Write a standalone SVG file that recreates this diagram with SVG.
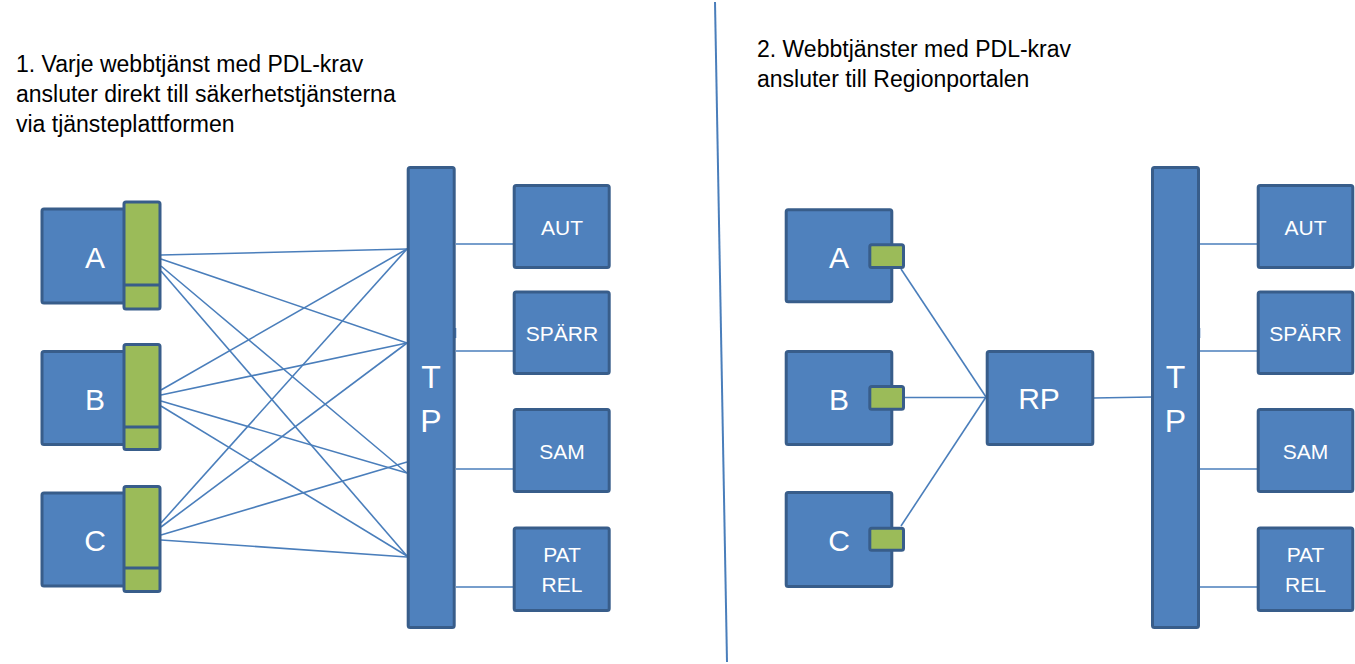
<svg xmlns="http://www.w3.org/2000/svg" width="1355" height="664" viewBox="0 0 1355 664">
<style>
.n{fill:#4F81BD;stroke:#385D8A;stroke-width:3;}
.g{fill:#9BBB59;stroke:#385D8A;stroke-width:3;}
.dv{stroke:#385D8A;stroke-width:3;}
.c{stroke:#4A7EBB;stroke-width:1.6;fill:none;}
.t{font-family:"Liberation Sans",Arial,sans-serif;font-size:23px;fill:#000;}
.lb{font-family:"Liberation Sans",Arial,sans-serif;font-size:30px;fill:#fff;text-anchor:middle;}
.tp{font-family:"Liberation Sans",Arial,sans-serif;font-size:32px;fill:#fff;text-anchor:middle;}
.s{font-family:"Liberation Sans",Arial,sans-serif;font-size:21px;fill:#fff;text-anchor:middle;}
</style>
<rect width="1355" height="664" fill="#fff"/>
<g id="titles">
<text class="t" x="16" y="72">1. Varje webbtjänst med PDL-krav</text>
<text class="t" x="16" y="102">ansluter direkt till säkerhetstjänsterna</text>
<text class="t" x="16" y="132">via tjänsteplattformen</text>
<text class="t" x="757" y="57">2. Webbtjänster med PDL-krav</text>
<text class="t" x="757" y="87">ansluter till Regionportalen</text>
</g>
<g id="divider"><line x1="715" y1="2" x2="727" y2="662" stroke="#4A7EBB" stroke-width="2"/></g>
<g id="connectors">
<line class="c" x1="161" y1="255" x2="407" y2="249"/>
<line class="c" x1="161" y1="259" x2="407" y2="343"/>
<line class="c" x1="161" y1="266" x2="407" y2="473"/>
<line class="c" x1="161" y1="271" x2="407" y2="556"/>
<line class="c" x1="161" y1="390" x2="407" y2="249"/>
<line class="c" x1="161" y1="395" x2="407" y2="343"/>
<line class="c" x1="161" y1="401" x2="407" y2="473"/>
<line class="c" x1="161" y1="406" x2="407" y2="556"/>
<line class="c" x1="161" y1="523" x2="407" y2="249"/>
<line class="c" x1="161" y1="527" x2="407" y2="343"/>
<line class="c" x1="161" y1="535" x2="407" y2="462"/>
<line class="c" x1="161" y1="540" x2="407" y2="557"/>
<line class="c" x1="456" y1="244" x2="513" y2="244"/>
<line class="c" x1="456" y1="351" x2="513" y2="351"/>
<line class="c" x1="456" y1="469" x2="525" y2="469"/>
<line class="c" x1="456" y1="587" x2="513" y2="587"/>
<line class="c" x1="455.5" y1="328" x2="455.5" y2="338"/>
<line class="c" x1="901" y1="269" x2="986" y2="397"/>
<line class="c" x1="905" y1="397.5" x2="986" y2="397.5"/>
<line class="c" x1="901" y1="526" x2="986" y2="397"/>
<line class="c" x1="1094" y1="398" x2="1152" y2="397"/>
<line class="c" x1="1200" y1="244" x2="1257" y2="244"/>
<line class="c" x1="1200" y1="351" x2="1257" y2="351"/>
<line class="c" x1="1200" y1="469" x2="1269" y2="469"/>
<line class="c" x1="1200" y1="587" x2="1257" y2="587"/>
<line class="c" x1="1199.5" y1="328" x2="1199.5" y2="338"/>
</g>
<g id="L-A">
<rect class="n" x="42" y="209" width="86" height="94" rx="2"/>
<text class="lb" x="95" y="268">A</text>
<rect class="g" x="124" y="202" width="36" height="107" rx="2"/>
<line class="dv" x1="124" y1="285" x2="160" y2="285"/>
</g>
<g id="L-B">
<rect class="n" x="42" y="351.5" width="86" height="93" rx="2"/>
<text class="lb" x="95" y="410">B</text>
<rect class="g" x="124" y="344.5" width="36" height="105" rx="2"/>
<line class="dv" x1="124" y1="427" x2="160" y2="427"/>
</g>
<g id="L-C">
<rect class="n" x="42" y="493" width="86" height="93" rx="2"/>
<text class="lb" x="95" y="551">C</text>
<rect class="g" x="124" y="486.5" width="36" height="105" rx="2"/>
<line class="dv" x1="124" y1="568" x2="160" y2="568"/>
</g>
<g id="L-TP">
<rect class="n" x="408.2" y="167.5" width="46" height="460" rx="2"/>
<text class="tp" x="431" y="388">T</text>
<text class="tp" x="431" y="432">P</text>
</g>
<g id="L-AUT"><rect class="n" x="514.2" y="185.5" width="95" height="82" rx="2"/><text class="s" x="562" y="235">AUT</text></g>
<g id="L-SPARR"><rect class="n" x="514.2" y="292" width="95" height="81.5" rx="2"/><text class="s" x="562" y="341">SPÄRR</text></g>
<g id="L-SAM"><rect class="n" x="514.2" y="409.5" width="95" height="82" rx="2"/><text class="s" x="562" y="459">SAM</text></g>
<g id="L-PATREL"><rect class="n" x="514.2" y="528" width="95" height="82.5" rx="2"/><text class="s" x="562" y="562">PAT</text><text class="s" x="562" y="592">REL</text></g>
<g id="R-A">
<rect class="n" x="786.2" y="209.8" width="105.6" height="92" rx="2"/>
<text class="lb" x="839" y="268">A</text>
<rect class="g" x="869.8" y="244.8" width="33.7" height="22.7" rx="2"/>
</g>
<g id="R-B">
<rect class="n" x="786.2" y="351.5" width="105.6" height="93" rx="2"/>
<text class="lb" x="839" y="410">B</text>
<rect class="g" x="869.8" y="386.5" width="33.7" height="22.7" rx="2"/>
</g>
<g id="R-C">
<rect class="n" x="786.2" y="492.5" width="105.6" height="94" rx="2"/>
<text class="lb" x="839" y="551">C</text>
<rect class="g" x="869.8" y="528.2" width="33.7" height="22" rx="2"/>
</g>
<g id="R-RP">
<rect class="n" x="987.2" y="351.5" width="105.6" height="93" rx="2"/>
<text class="lb" x="1039" y="409">RP</text>
</g>
<g id="R-TP">
<rect class="n" x="1152.5" y="167.5" width="46" height="460" rx="2"/>
<text class="tp" x="1175.5" y="388">T</text>
<text class="tp" x="1175.5" y="432">P</text>
</g>
<g id="R-AUT"><rect class="n" x="1258.2" y="185.5" width="94.6" height="82" rx="2"/><text class="s" x="1305.5" y="235">AUT</text></g>
<g id="R-SPARR"><rect class="n" x="1258.2" y="292" width="94.6" height="81.5" rx="2"/><text class="s" x="1305.5" y="341">SPÄRR</text></g>
<g id="R-SAM"><rect class="n" x="1258.2" y="409.5" width="94.6" height="82" rx="2"/><text class="s" x="1305.5" y="459">SAM</text></g>
<g id="R-PATREL"><rect class="n" x="1258.2" y="528" width="94.6" height="82.5" rx="2"/><text class="s" x="1305.5" y="562">PAT</text><text class="s" x="1305.5" y="592">REL</text></g>
</svg>
